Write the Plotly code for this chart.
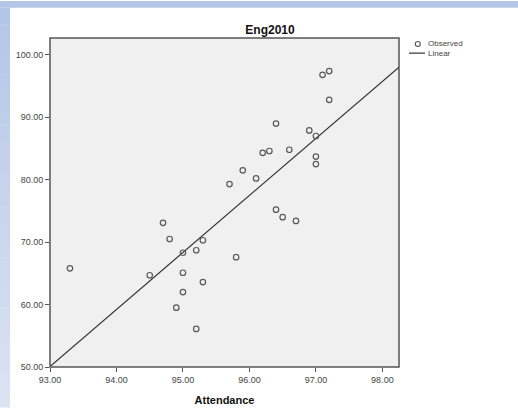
import numpy as np
import plotly.graph_objects as go

# Attendance (%) vs English score (2010)
attendance = [97.2, 97.1, 97.2, 96.4, 96.9, 97.0, 96.2, 96.3, 96.6, 97.0,
              97.0, 95.9, 95.7, 96.1, 96.4, 96.5, 96.7, 94.7, 94.8, 95.3,
              95.0, 95.2, 95.8, 93.3, 94.5, 95.0, 95.3, 95.0, 94.9, 95.2]
eng2010 = [97.4, 96.8, 92.8, 89.0, 87.9, 87.0, 84.3, 84.6, 84.8, 83.7,
           82.5, 81.5, 79.3, 80.2, 75.2, 74.0, 73.4, 73.1, 70.5, 70.3,
           68.3, 68.7, 67.6, 65.8, 64.7, 65.1, 63.6, 62.0, 59.5, 56.1]

x_ticks = [93, 94, 95, 96, 97, 98]
y_ticks = [50, 60, 70, 80, 90, 100]
x_range = [93.0, 98.25]
y_range = [50.0, 102.7]

W, H = 518, 416
L, R, T, B = 50, 119, 38, 41
PW, PH = W - L - R, H - T - B

# least-squares linear fit
slope, intercept = np.polyfit(attendance, eng2010, 1)
fit_x = np.array(x_range)
fit_y = intercept + slope * fit_x

font_family = "Arial, Liberation Sans, sans-serif"
frame_col = "#555555"

fig = go.Figure()
fig.add_trace(go.Scatter(
    x=fit_x, y=fit_y, mode="lines",
    line=dict(color="#333333", width=1.2),
    showlegend=False, cliponaxis=True,
))
fig.add_trace(go.Scatter(
    x=attendance, y=eng2010, mode="markers",
    marker=dict(symbol="circle-open", size=5.5, color="#5a5a5a",
                line=dict(width=1.2, color="#5a5a5a")),
    showlegend=False, cliponaxis=False,
))


# pixel position -> paper coordinates (paper spans the plot area)
def px_x(p):
    return (p - L) / PW


def px_y(p):
    return 1 - (p - T) / PH


shapes = []
# light blue page border: top band and left band with a soft gradient
shapes.append(dict(type="rect", xref="paper", yref="paper", layer="below",
                   x0=px_x(0), x1=px_x(W), y0=px_y(7), y1=px_y(0),
                   fillcolor="#b4c6e7", line=dict(width=0)))
top_c = np.array([0xb4, 0xc6, 0xe7])
bot_c = np.array([0xdc, 0xe4, 0xf3])
n = 24
for i in range(n):
    y0p = 7 + (H - 7) * i / n
    y1p = 7 + (H - 7) * (i + 1) / n
    c = top_c + (bot_c - top_c) * (i + 0.5) / n
    shapes.append(dict(type="rect", xref="paper", yref="paper", layer="below",
                       x0=px_x(0), x1=px_x(10), y0=px_y(y1p + 0.5), y1=px_y(y0p),
                       fillcolor="rgb(%d,%d,%d)" % tuple(c.astype(int)),
                       line=dict(width=0)))
# plot frame
shapes.append(dict(type="rect", xref="x domain", yref="y domain",
                   x0=0, x1=1, y0=0, y1=1, layer="above",
                   line=dict(color=frame_col, width=1.5)))
# legend glyphs
shapes.append(dict(type="circle", xref="paper", yref="paper",
                   x0=px_x(415.3), x1=px_x(420.3), y0=px_y(46.6), y1=px_y(41.6),
                   line=dict(color="#5a5a5a", width=1.2)))
shapes.append(dict(type="line", xref="paper", yref="paper",
                   x0=px_x(409), x1=px_x(425), y0=px_y(53.5), y1=px_y(53.5),
                   line=dict(color="#333333", width=1.2)))

annotations = [
    dict(text="Observed", xref="paper", yref="paper", x=px_x(426), y=px_y(44),
         xanchor="left", yanchor="middle", showarrow=False,
         font=dict(size=8, color="#444444", family=font_family)),
    dict(text="Linear", xref="paper", yref="paper", x=px_x(426), y=px_y(54),
         xanchor="left", yanchor="middle", showarrow=False,
         font=dict(size=8, color="#444444", family=font_family)),
]

fig.update_layout(
    width=W, height=H,
    margin=dict(l=L, r=R, t=T, b=B, pad=0),
    paper_bgcolor="white", plot_bgcolor="#f0f0f0",
    font=dict(family=font_family, color="#333333"),
    title=dict(text="<b>Eng2010</b>", x=270 / W, xanchor="center",
               y=1 - 30 / H, yanchor="middle",
               font=dict(size=12, color="#111111", family=font_family)),
    shapes=shapes, annotations=annotations,
    showlegend=False,
)
fig.update_xaxes(
    range=x_range, tickvals=x_ticks,
    ticktext=["%.2f" % v for v in x_ticks],
    ticks="outside", ticklen=4, tickwidth=1.2, tickcolor=frame_col,
    showgrid=False, zeroline=False, showline=False,
    tickfont=dict(size=9, color="#444444"),
    title=dict(text="<b>Attendance</b>", standoff=12,
               font=dict(size=11, color="#111111")),
)
fig.update_yaxes(
    range=y_range, tickvals=y_ticks,
    ticktext=["%.2f" % v for v in y_ticks],
    ticks="outside", ticklen=4, tickwidth=1.2, tickcolor=frame_col,
    showgrid=False, zeroline=False, showline=False,
    tickfont=dict(size=9, color="#444444"),
)

fig.write_html("out.html")
